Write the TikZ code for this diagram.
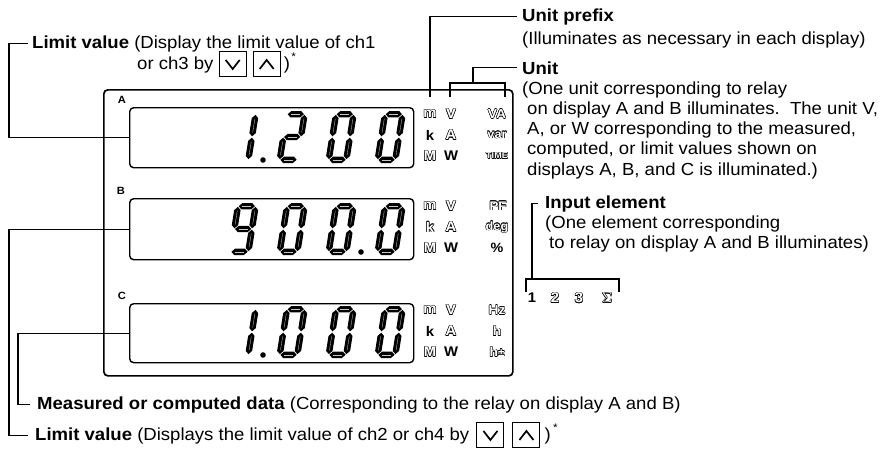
\documentclass[tikz,border=0pt]{standalone}
\usepackage{fontspec}
\setmainfont{Liberation Sans}[FakeStretch=1.06]
\usetikzlibrary{positioning}
\newcommand\fsz[1]{\fontsize{#1}{#1}\selectfont}
\newcommand\olt[1]{\begingroup\setbox0=\hbox{#1}%
\rlap{\kern.55pt\copy0}\rlap{\kern-.55pt\copy0}%
\rlap{\raise.55pt\copy0}\rlap{\lower.55pt\copy0}%
\rlap{\kern.4pt\raise.4pt\copy0}\rlap{\kern-.4pt\raise.4pt\copy0}%
\rlap{\kern.4pt\lower.4pt\copy0}\rlap{\kern-.4pt\lower.4pt\copy0}%
\textcolor{white}{\copy0}\endgroup}
% seven-segment pieces (local coords, y up, cell 24 x 52)
\newcommand\sgA{\fill (3.9,48.8) -- (7.1,52) -- (16.9,52) -- (20.1,48.8) -- (16.9,45.6) -- (7.1,45.6) -- cycle; \draw[hl] (7.5,48.8) -- (16.5,48.8);}
\newcommand\sgD{\fill (3.9,3.2) -- (7.1,6.4) -- (16.9,6.4) -- (20.1,3.2) -- (16.9,0) -- (7.1,0) -- cycle; \draw[hl] (7.5,3.2) -- (16.5,3.2);}
\newcommand\sgG{\fill (3.9,26) -- (7.1,29.2) -- (16.9,29.2) -- (20.1,26) -- (16.9,22.8) -- (7.1,22.8) -- cycle; \draw[hl] (7.5,26) -- (16.5,26);}
\newcommand\sgF{\fill (3.2,26.7) -- (6.4,29.9) -- (6.4,44.9) -- (3.2,48.1) -- (0,44.9) -- (0,29.9) -- cycle; \draw[hl] (3.2,30.5) -- (3.2,44.3);}
\newcommand\sgE{\fill (3.2,3.9) -- (6.4,7.1) -- (6.4,22.1) -- (3.2,25.3) -- (0,22.1) -- (0,7.1) -- cycle; \draw[hl] (3.2,7.7) -- (3.2,21.5);}
\newcommand\sgB{\fill (20.8,26.7) -- (24,29.9) -- (24,44.9) -- (20.8,48.1) -- (17.6,44.9) -- (17.6,29.9) -- cycle; \draw[hl] (20.8,30.5) -- (20.8,44.3);}
\newcommand\sgC{\fill (20.8,3.9) -- (24,7.1) -- (24,22.1) -- (20.8,25.3) -- (17.6,22.1) -- (17.6,7.1) -- cycle; \draw[hl] (20.8,7.7) -- (20.8,21.5);}
\newcommand\dig[3]{\begin{scope}[shift={(#1,#2)},xslant=0.16,y=1pt]\foreach \s in {#3}{\csname sg\s\endcsname}\end{scope}}
\tikzset{
  hl/.style={draw=gray!45, line width=0.35pt},
  txt/.style={font=\fsz{17.5}, inner sep=0pt, anchor=base west},
  lead/.style={line width=1.1pt},
  panel/.style={draw, line width=1.7pt, rounded corners=4pt, inner sep=0pt, anchor=north west},
  lcd/.style={draw, line width=1.4pt, rounded corners=4pt, inner sep=0pt, anchor=north west},
  keybox/.style={draw, line width=1pt, minimum width=27pt, minimum height=25pt, inner sep=0pt},
  chev/.style={line width=1.7pt},
  un/.style={font=\bfseries\fsz{14}, inner sep=0pt},
  dlab/.style={font=\bfseries\fsz{10.5}, inner sep=0pt},
}
\begin{document}
\begin{tikzpicture}[x=1pt,y=-1pt]
\useasboundingbox (0,0) rectangle (892,450);
% panel and displays
\node[panel, minimum width=409pt, minimum height=286pt] (panel) at (103,89) {};
\node[lcd, minimum width=284pt, minimum height=60pt] (dispA) at (129,107) {};
\node[lcd, minimum width=284pt, minimum height=61pt] (dispB) at (129,198) {};
\node[lcd, minimum width=284pt, minimum height=59pt] (dispC) at (129,303) {};
\node[dlab] (labA) at (122,100) {A};
\node[dlab] (labB) at (121,191) {B};
\node[dlab] (labC) at (122,296) {C};
% digits A: 1.200
\dig{227}{163}{B,C}\dig{276}{163}{A,B,G,E,D}\dig{325}{163}{A,B,C,D,E,F}\dig{374}{163}{A,B,C,D,E,F}
\fill (263,160) circle (2.8);
% digits B: 900.0
\dig{227}{255}{A,B,C,D,F,G}\dig{276}{255}{A,B,C,D,E,F}\dig{325}{255}{A,B,C,D,E,F}\dig{374}{255}{A,B,C,D,E,F}
\fill (361,252) circle (2.8);
% digits C: 1.000
\dig{227}{358}{B,C}\dig{276}{358}{A,B,C,D,E,F}\dig{325}{358}{A,B,C,D,E,F}\dig{374}{358}{A,B,C,D,E,F}
\fill (263,355) circle (2.8);
% unit column A
\node[un] (uAm) at (430,114) {\olt{m}};
\node[un] (uAk) at (430,135) {k};
\node[un] (uAM) at (430,156) {\olt{M}};
\node[un] (uAV) at (451,114) {\olt{V}};
\node[un] (uAA) at (451,135) {\olt{A}};
\node[un] (uAW) at (451,156) {W};
\node[un, font=\bfseries\fsz{13}] (uAVA) at (497,114) {\olt{VA}};
\node[un, font=\bfseries\fsz{12}] (uAvar) at (497,135) {\olt{var}};
\node[un, font=\bfseries\fsz{8.5}] (uATIME) at (497,156) {\olt{TIME}};
% unit column B
\node[un] (uBm) at (430,206) {\olt{m}};
\node[un] (uBk) at (430,227) {\olt{k}};
\node[un] (uBM) at (430,248) {\olt{M}};
\node[un] (uBV) at (451,206) {\olt{V}};
\node[un] (uBA) at (451,227) {\olt{A}};
\node[un] (uBW) at (451,248) {W};
\node[un, font=\bfseries\fsz{12.5}] (uBPF) at (498,206) {\olt{PF}};
\node[un, font=\bfseries\fsz{12}] (uBdeg) at (497,227) {\olt{deg}};
\node[un, font=\bfseries\fsz{13.5}] (uBpc) at (497,248) {\%};
% unit column C
\node[un] (uCm) at (430,310) {\olt{m}};
\node[un] (uCk) at (430,331) {k};
\node[un] (uCM) at (430,352) {\olt{M}};
\node[un] (uCV) at (451,310) {\olt{V}};
\node[un] (uCA) at (451,331) {\olt{A}};
\node[un] (uCW) at (451,352) {W};
\node[un, font=\bfseries\fsz{13}] (uCHz) at (497,310) {\olt{Hz}};
\node[un, font=\bfseries\fsz{13}] (uCh) at (497,331) {\olt{h}};
\node[un, font=\bfseries\fsz{13}] (uChpm) at (497,352) {\olt{h\raisebox{.5pt}{\fsz{11}\textpm}}};
% input elements
\node[un] (in1) at (532,298) {1};
\node[un] (in2) at (555,298) {\olt{2}};
\node[un] (in3) at (579,298) {\olt{3}};
\node[un] (inS) at (607,298) {\olt{$\Sigma$}};
% texts top left
\node[txt] (limtop) at (32,48) {\textbf{Limit value} (Display the limit value of ch1};
\node[txt] (orch3) at (137,69) {or ch3 by};
\node[keybox, right=5pt of orch3] (kdn1) {};
\node[keybox, right=6pt of kdn1] (kup1) {};
\node[txt, right=3pt of kup1] (par1) {)};
\node[font=\fsz{11}, inner sep=0pt, anchor=south west] (st1) at ([xshift=1pt,yshift=-5pt]par1.north east) {*};
\draw[chev] ([xshift=-7pt,yshift=4.5pt]kdn1.center) -- ([yshift=-4.5pt]kdn1.center) -- ([xshift=7pt,yshift=4.5pt]kdn1.center);
\draw[chev] ([xshift=-7pt,yshift=-4.5pt]kup1.center) -- ([yshift=4.5pt]kup1.center) -- ([xshift=7pt,yshift=-4.5pt]kup1.center);
% texts right
\node[txt] (uprefix) at (522,21) {\textbf{Unit prefix}};
\node[txt] (uprefix2) at (522,44) {(Illuminates as necessary in each display)};
\node[txt] (unit) at (522,74) {\textbf{Unit}};
\node[txt] (ud1) at (522,94) {(One unit corresponding to relay};
\node[txt] (ud2) at (527,114.3) {on display A and B illuminates.\ \ The unit V,};
\node[txt] (ud3) at (527,134.6) {A, or W corresponding to the measured,};
\node[txt] (ud4) at (527,154.9) {computed, or limit values shown on};
\node[txt] (ud5) at (527,175.2) {displays A, B, and C is illuminated.)};
\node[txt] (inel) at (545,208) {\textbf{Input element}};
\node[txt] (inel2) at (545,228) {(One element corresponding};
\node[txt] (inel3) at (549,248) {to relay on display A and B illuminates)};
% texts bottom
\node[txt] (meas) at (37,409) {\textbf{Measured or computed data} (Corresponding to the relay on display A and B)};
\node[txt] (limbot) at (35,440) {\textbf{Limit value} (Displays the limit value of ch2 or ch4 by};
\node[keybox, right=7pt of limbot] (kdn2) {};
\node[keybox, right=8pt of kdn2] (kup2) {};
\node[txt, right=4pt of kup2] (par2) {)};
\node[font=\fsz{11}, inner sep=0pt, anchor=south west] (st2) at ([xshift=2pt,yshift=-5pt]par2.north east) {*};
\draw[chev] ([xshift=-7pt,yshift=4.5pt]kdn2.center) -- ([yshift=-4.5pt]kdn2.center) -- ([xshift=7pt,yshift=4.5pt]kdn2.center);
\draw[chev] ([xshift=-7pt,yshift=-4.5pt]kup2.center) -- ([yshift=4.5pt]kup2.center) -- ([xshift=7pt,yshift=-4.5pt]kup2.center);
% leader lines
\draw[lead] (dispA.west) -| ([xshift=-23pt]limtop.west) -- ([xshift=-4pt]limtop.west);
\draw[lead] (dispB.west) -| ([xshift=-26pt]limbot.west) -- ([xshift=-7pt]limbot.west);
\draw[lead] (dispC.west) -| ([xshift=-19pt]meas.west) -- ([xshift=-7pt]meas.west);
\coordinate (mtop) at (430,97);
\draw[lead] (mtop) |- ([xshift=-5pt]uprefix.west);
\coordinate (ubl) at (450,97);
\coordinate (ubr) at (505,97);
\coordinate (ustem) at (473,83);
\draw[lead] (ubl) -- ++(0,-14) -| (ubr);
\draw[lead] (ustem) |- ([xshift=-5pt]unit.west);
\coordinate (ibl) at (526,292);
\coordinate (ibr) at (619,292);
\coordinate (istem) at (532,279);
\draw[lead] (ibl) -- ++(0,-13) -| (ibr);
\draw[lead] (istem) |- ([xshift=-7pt]inel.west);
\end{tikzpicture}
\end{document}
